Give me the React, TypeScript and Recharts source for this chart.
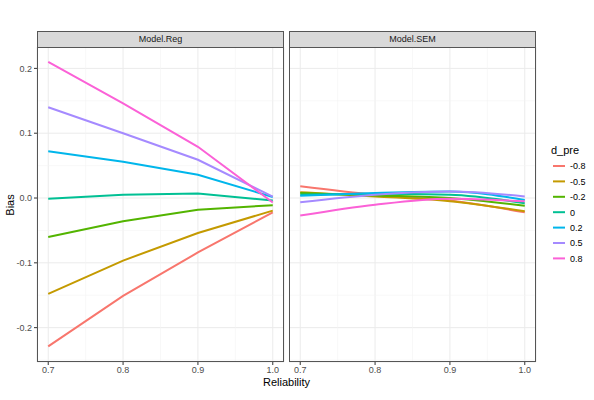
import React from "react";
import { CartesianGrid, Line, LineChart, ReferenceLine, XAxis, YAxis } from "recharts";

const reliability = [0.7, 0.8, 0.9, 1.0];
const groups = ["-0.8", "-0.5", "-0.2", "0", "0.2", "0.5", "0.8"];
const colors = ["#F8766D", "#C49A00", "#53B400", "#00C094", "#00B6EB", "#A58AFF", "#FB61D7"];

// bias per d_pre, at reliability 0.7 / 0.8 / 0.9 / 1.0
const regBias = [
  [-0.229, -0.151, -0.084, -0.022],
  [-0.148, -0.0965, -0.054, -0.0195],
  [-0.06, -0.036, -0.018, -0.011],
  [-0.001, 0.005, 0.007, -0.004],
  [0.072, 0.056, 0.036, 0.0015],
  [0.14, 0.1, 0.059, 0.002],
  [0.21, 0.146, 0.079, -0.007],
];
const semBias = [
  [0.018, 0.005, -0.004, -0.022],
  [0.009, 0.0025, -0.005, -0.0205],
  [0.0077, 0.004, 0.0, -0.012],
  [0.005, 0.0066, 0.005, -0.008],
  [0.0035, 0.0077, 0.01, -0.003],
  [-0.0067, 0.005, 0.01, 0.0025],
  [-0.027, -0.0103, -0.001, -0.005],
];

const xTicks = [0.7, 0.8, 0.9, 1.0];
const xMinor = [0.75, 0.85, 0.95];
const yTicks = [-0.2, -0.1, 0.0, 0.1, 0.2];
const yMinor = [-0.25, -0.15, -0.05, 0.05, 0.15];

const xDomain = [0.685, 1.015];
const yDomain = [-0.253, 0.233];

const FONT = "'Liberation Sans', Arial, sans-serif";

function toRows(values: number[][]) {
  return reliability.map((r, i) => {
    const row: Record<string, number> = { x: r };
    groups.forEach((g, k) => {
      row[g] = values[k][i];
    });
    return row;
  });
}

const tickStyle = { fill: "#4d4d4d", fontSize: 9, fontFamily: FONT };

function Panel({
  title,
  values,
  left,
  showY,
  curve,
}: {
  title: string;
  values: number[][];
  left: number;
  showY: boolean;
  curve: "linear" | "monotone";
}) {
  const yW = showY ? 37 : 0;
  const plotW = 247;
  return (
    <div style={{ position: "absolute", left, top: 0 }}>
      <LineChart
        width={yW + plotW + 4}
        height={400}
        data={toRows(values)}
        margin={{ top: 47, right: 4, bottom: 18, left: 0 }}
      >
        <CartesianGrid stroke="#ebebeb" strokeWidth={1} />
        {xMinor.map((v) => (
          <ReferenceLine key={"vx" + v} x={v} stroke="#f4f4f4" strokeWidth={0.6} />
        ))}
        {yMinor.map((v) => (
          <ReferenceLine key={"hy" + v} y={v} stroke="#f4f4f4" strokeWidth={0.6} />
        ))}
        <XAxis
          dataKey="x"
          type="number"
          domain={xDomain}
          ticks={xTicks}
          allowDataOverflow
          height={20}
          tickSize={3}
          tickMargin={2}
          tick={tickStyle}
          tickFormatter={(v: number) => v.toFixed(1)}
          axisLine={false}
          tickLine={{ stroke: "#333" }}
        />
        <YAxis
          type="number"
          domain={yDomain}
          ticks={yTicks}
          allowDataOverflow
          hide={!showY}
          width={yW}
          tickSize={3}
          tickMargin={2}
          tick={tickStyle}
          tickFormatter={(v: number) => v.toFixed(1)}
          axisLine={false}
          tickLine={{ stroke: "#333" }}
        />
        {groups.map((g, k) => (
          <Line
            key={g}
            dataKey={g}
            type={curve}
            stroke={colors[k]}
            strokeWidth={2}
            dot={false}
            isAnimationActive={false}
          />
        ))}
      </LineChart>
      <div
        style={{
          position: "absolute",
          left: yW,
          top: 47,
          width: plotW,
          height: 315,
          boxSizing: "border-box",
          border: "1px solid #555",
          pointerEvents: "none",
        }}
      />
      <div
        style={{
          position: "absolute",
          left: yW,
          top: 31,
          width: plotW,
          height: 17,
          boxSizing: "border-box",
          border: "1px solid #555",
          background: "#d9d9d9",
          color: "#1a1a1a",
          fontFamily: FONT,
          fontSize: 9,
          lineHeight: "15px",
          textAlign: "center",
        }}
      >
        {title}
      </div>
    </div>
  );
}

function LegendBox() {
  return (
    <svg
      width={60}
      height={130}
      style={{ position: "absolute", left: 540, top: 140 }}
      fontFamily={FONT}
    >
      <text x={11} y={14} fontSize={11} fill="#000">
        d_pre
      </text>
      {groups.map((g, k) => {
        const cy = 26 + k * 15.4;
        return (
          <g key={g}>
            <line x1={13} x2={25} y1={cy} y2={cy} stroke={colors[k]} strokeWidth={2} />
            <text x={30} y={cy + 3.3} fontSize={9} fill="#000">
              {g}
            </text>
          </g>
        );
      })}
    </svg>
  );
}

export default function App() {
  return (
    <div
      style={{
        position: "absolute",
        left: 0,
        top: 0,
        width: 594,
        height: 400,
        background: "#fff",
        overflow: "hidden",
      }}
    >
      <Panel title="Model.Reg" values={regBias} left={0} showY curve="linear" />
      <Panel title="Model.SEM" values={semBias} left={289} showY={false} curve="monotone" />
      <LegendBox />
      <div
        style={{
          position: "absolute",
          left: 0,
          width: 573,
          top: 376,
          textAlign: "center",
          fontFamily: FONT,
          fontSize: 11,
          color: "#000",
        }}
      >
        Reliability
      </div>
      <div
        style={{
          position: "absolute",
          left: 10,
          top: 205,
          transform: "translate(-50%, -50%) rotate(-90deg)",
          fontFamily: FONT,
          fontSize: 11,
          color: "#000",
        }}
      >
        Bias
      </div>
    </div>
  );
}
